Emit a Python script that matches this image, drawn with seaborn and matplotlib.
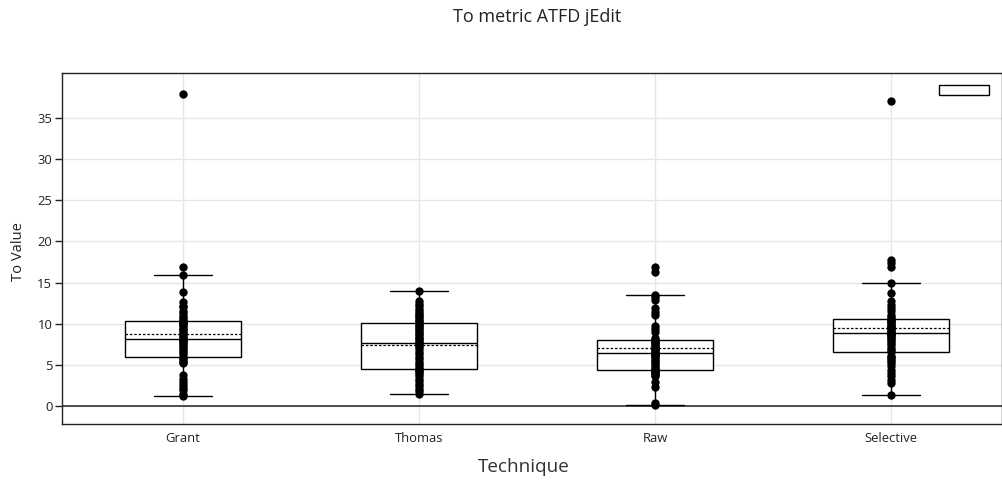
import matplotlib
matplotlib.use("Agg")
import matplotlib.pyplot as plt
import seaborn as sns
import pandas as pd
from matplotlib.patches import Patch

categories = ["Grant", "Thomas", "Raw", "Selective"]

grant = [1.18, 1.5, 1.9, 2.2, 2.5, 2.9, 3.3, 3.8, 5.2, 5.4, 5.6, 5.8,
         6.0,
         6.3, 6.6, 6.8, 7.1, 7.3, 7.5, 7.7, 7.85, 8.0, 8.05, 8.1,
         8.18,
         8.4, 8.6, 8.8, 9.0, 9.2, 9.4, 9.6, 9.8, 9.95, 10.1, 10.2,
         10.33,
         10.5, 10.7, 10.9, 11.27, 11.6, 12.07, 12.2, 12.6, 13.85, 15.92, 16.9, 37.9]

thomas = [1.5, 1.8, 2.1, 2.4, 2.7, 3.0, 3.3, 3.6, 3.85, 4.1, 4.3, 4.45,
          4.53,
          4.8, 5.1, 5.4, 5.7, 6.0, 6.3, 6.6, 6.9, 7.2, 7.45, 7.6,
          7.7,
          7.9, 8.1, 8.3, 8.5, 8.7, 8.9, 9.1, 9.3, 9.5, 9.7, 9.9,
          10.12,
          10.3, 10.5, 10.7, 10.9, 11.1, 11.3, 11.5, 11.8, 12.1, 12.4, 12.8, 14.01]

raw = [0.12, 0.35, 2.27, 2.95, 3.6, 3.8, 3.95, 4.05, 4.15, 4.22, 4.28, 4.33,
       4.37,
       4.6, 4.9, 5.1, 5.3, 5.5, 5.7, 5.9, 6.05, 6.2, 6.3, 6.38,
       6.44,
       6.6, 6.75, 6.9, 7.05, 7.2, 7.35, 7.5, 7.65, 7.8, 7.9, 8.0,
       8.06,
       8.3, 9.03, 9.4, 9.72, 11.06, 11.4, 11.87, 12.9, 13.2, 13.53, 16.32, 16.93]

selective = [1.3, 2.8, 3.2, 3.6, 4.0, 4.4, 4.8, 5.2, 5.5, 5.75, 5.95, 6.1,
             6.52,
             6.8, 7.1, 7.4, 7.7, 7.9, 8.1, 8.3, 8.45, 8.6, 8.7, 8.78,
             8.83,
             9.0, 9.15, 9.3, 9.45, 9.6, 9.75, 9.9, 10.05, 10.2, 10.35, 10.47,
             10.57,
             10.8, 11.1, 11.5, 11.9, 12.3, 12.7, 13.7, 14.99, 16.93, 17.34, 17.74, 37.06]

y_ticks = [0, 5, 10, 15, 20, 25, 30, 35]

series = {"Grant": grant, "Thomas": thomas, "Raw": raw, "Selective": selective}
df = pd.DataFrame(
    [(k, v) for k in categories for v in series[k]],
    columns=["Technique", "Value"],
)

sns.set_style("white")
plt.rcParams["font.family"] = ["Open Sans", "DejaVu Sans"]

W, H = 1003, 484
fig = plt.figure(figsize=(W / 100, H / 100), dpi=100)
ax = fig.add_axes([62 / W, 1 - 424 / H, (1002 - 62) / W, (424 - 73) / H])

ax.set_axisbelow(True)
for t in y_ticks:
    ax.axhline(t, color="#e6e6e6", lw=1, zorder=0)
for i in range(len(categories)):
    ax.axvline(i, color="#e6e6e6", lw=1, zorder=0)
ax.axhline(0, color="#222222", lw=1.1, zorder=1)

sns.boxplot(
    data=df, x="Technique", y="Value", order=categories, ax=ax,
    width=0.49, showfliers=False, whis=1.5,
    color="white", linecolor="black", linewidth=1.0, fill=True,
    showmeans=True, meanline=True,
    meanprops=dict(color="black", linestyle=(0, (2, 1.5)), linewidth=0.9),
    medianprops=dict(color="black", linewidth=1.0),
)
sns.stripplot(
    data=df, x="Technique", y="Value", order=categories, ax=ax,
    jitter=False, color="black", size=6, zorder=5,
)

ax.set_xlim(-0.513, 3.47)
ax.set_ylim(-2.19, 40.47)
ax.set_yticks(y_ticks)
ax.set_yticklabels([str(t) for t in y_ticks])
ax.tick_params(axis="y", direction="out", length=5, width=1, color="#222222",
               labelsize=9.4, labelcolor="#222222", left=True, pad=2)
ax.tick_params(axis="x", length=0, labelsize=9.4, labelcolor="#222222", pad=6)
for s in ax.spines.values():
    s.set_color("#222222")
    s.set_linewidth(1.0)
    s.set_visible(True)

ax.set_xlabel("")
ax.set_ylabel("")
fig.text(18 / W, 1 - 252 / H, "To Value", rotation=90, ha="center", va="center",
         fontsize=10.6, color="#222222")
fig.text(524 / W, 1 - 467 / H, "Technique", ha="center", va="center",
         fontsize=13.6, color="#333333")
fig.text(537 / W, 1 - 17 / H, "To metric ATFD jEdit", ha="center", va="center",
         fontsize=13.0, color="#222222")

ax.legend(handles=[Patch(facecolor="white", edgecolor="black", linewidth=1.0)],
          labels=[""], loc="upper right",
          bbox_to_anchor=(1 - 13 / 940, 1 - 11 / 351),
          frameon=False, borderpad=0, borderaxespad=0, handletextpad=0,
          handlelength=4.2, handleheight=1.0, fontsize=8.6)

fig.savefig("out.png", dpi=100)
